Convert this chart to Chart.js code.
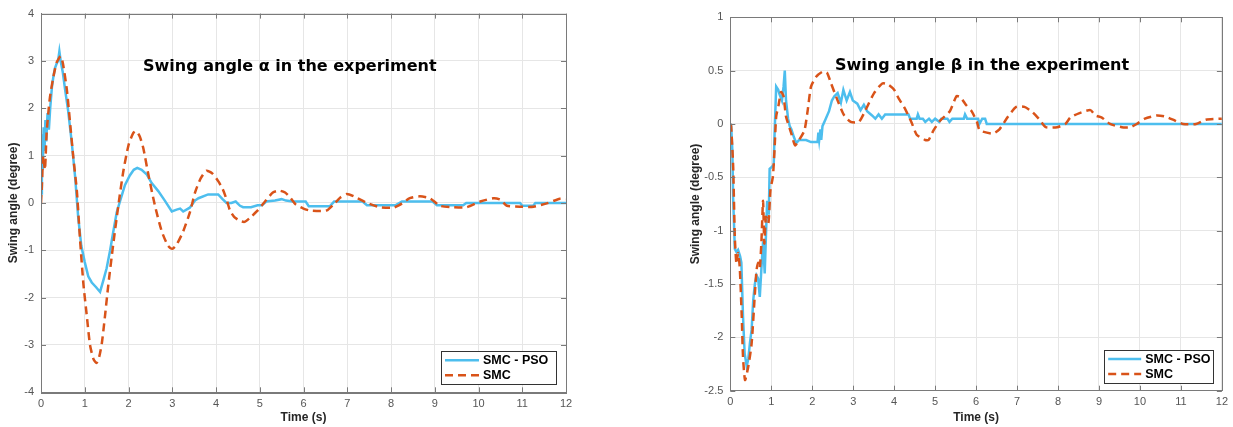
<!DOCTYPE html>
<html>
<head>
<meta charset="utf-8">
<script src="https://cdn.jsdelivr.net/npm/chart.js"></script>
<style>
  body { margin: 0; background: #fff; width: 1233px; height: 427px; overflow: hidden; position: relative; }
  .box { position: absolute; top: 0; height: 427px; }
  #alphaBox { left: 0; width: 600px; }
  #betaBox { left: 682px; width: 551px; }
</style>
</head>
<body>
<div class="box" id="alphaBox"><canvas id="alphaChart"></canvas></div>
<div class="box" id="betaBox"><canvas id="betaChart"></canvas></div>
<script>
// series names
const seriesNames = ['SMC - PSO', 'SMC']

// swing angle alpha, SMC - PSO
const alphaPsoT = [0, 0.02, 0.04, 0.06, 0.08, 0.10, 0.12, 0.15, 0.18, 0.21, 0.25, 0.28, 0.32, 0.36, 0.39, 0.42, 0.45, 0.50, 0.55, 0.62, 0.70, 0.78, 0.85, 0.92, 1.00, 1.08, 1.16, 1.26, 1.35, 1.42, 1.50, 1.58, 1.65, 1.73, 1.81, 1.92, 2.03, 2.12, 2.20, 2.30, 2.42, 2.53, 2.68, 2.83, 2.99, 3.10, 3.18, 3.25, 3.40, 3.52, 3.60, 3.82, 4.05, 4.15, 4.24, 4.35, 4.45, 4.55, 4.62, 4.80, 4.95, 5.05, 5.15, 5.35, 5.50, 5.60, 5.75, 6.05, 6.12, 6.60, 6.70, 7.35, 7.45, 8.10, 8.25, 8.95, 9.05, 9.65, 9.72, 10.95, 11.00, 11.25, 11.30, 12.00]
const alphaPsoV = [0.20, 1.45, 0.70, 1.60, 1.10, 1.75, 1.30, 1.90, 1.55, 2.00, 2.45, 2.65, 2.85, 2.95, 3.00, 3.20, 3.00, 2.75, 2.40, 1.95, 1.30, 0.55, -0.30, -0.90, -1.25, -1.55, -1.68, -1.78, -1.88, -1.65, -1.38, -1.00, -0.62, -0.20, 0.05, 0.38, 0.58, 0.70, 0.74, 0.70, 0.60, 0.42, 0.25, 0.05, -0.18, -0.14, -0.12, -0.18, -0.10, 0.05, 0.10, 0.18, 0.18, 0.08, 0.00, 0.00, 0.03, -0.06, -0.09, -0.09, -0.05, -0.05, 0.03, 0.05, 0.08, 0.05, 0.03, 0.03, -0.07, -0.07, 0.03, 0.03, -0.05, -0.05, 0.03, 0.03, -0.05, -0.05, 0.00, 0.00, -0.06, -0.06, 0.00, 0.00]

// swing angle alpha, SMC
const alphaSmcT = [0, 0.02, 0.05, 0.09, 0.13, 0.20, 0.28, 0.36, 0.45, 0.50, 0.59, 0.67, 0.74, 0.82, 0.89, 0.97, 1.05, 1.12, 1.20, 1.27, 1.33, 1.39, 1.46, 1.54, 1.65, 1.77, 1.88, 2.00, 2.11, 2.18, 2.26, 2.34, 2.45, 2.60, 2.76, 2.90, 3.00, 3.10, 3.25, 3.41, 3.52, 3.65, 3.78, 3.92, 4.05, 4.15, 4.24, 4.32, 4.42, 4.55, 4.65, 4.77, 4.93, 5.12, 5.30, 5.45, 5.58, 5.69, 5.82, 6.00, 6.15, 6.40, 6.55, 6.68, 6.85, 6.99, 7.15, 7.43, 7.75, 8.05, 8.20, 8.43, 8.66, 8.89, 9.12, 9.43, 9.73, 10.04, 10.34, 10.50, 10.65, 10.95, 11.26, 11.56, 11.86, 12.00]
const alphaSmcV = [0.00, 0.35, 1.00, 0.70, 1.50, 2.20, 2.65, 2.97, 3.10, 2.95, 2.40, 1.64, 0.95, 0.25, -0.74, -1.72, -2.41, -3.00, -3.30, -3.38, -3.25, -2.97, -2.41, -1.72, -0.88, -0.04, 0.66, 1.22, 1.48, 1.52, 1.40, 1.15, 0.62, -0.04, -0.60, -0.90, -0.97, -0.88, -0.60, -0.18, 0.22, 0.52, 0.68, 0.62, 0.46, 0.30, 0.08, -0.16, -0.30, -0.38, -0.40, -0.32, -0.18, 0.03, 0.22, 0.26, 0.22, 0.12, -0.03, -0.12, -0.16, -0.17, -0.15, -0.04, 0.12, 0.19, 0.14, 0.01, -0.09, -0.10, -0.04, 0.10, 0.14, 0.10, -0.06, -0.09, -0.09, 0.03, 0.10, 0.07, -0.06, -0.08, -0.08, -0.01, 0.09, 0.08]

// swing angle beta, SMC - PSO
const betaPsoT = [0, 0.02, 0.05, 0.07, 0.11, 0.15, 0.19, 0.24, 0.27, 0.31, 0.35, 0.40, 0.44, 0.48, 0.52, 0.56, 0.60, 0.64, 0.68, 0.72, 0.76, 0.80, 0.84, 0.87, 0.90, 0.94, 0.96, 1.02, 1.06, 1.08, 1.12, 1.17, 1.20, 1.26, 1.30, 1.33, 1.36, 1.41, 1.45, 1.49, 1.55, 1.61, 1.68, 1.73, 1.85, 1.97, 2.13, 2.15, 2.17, 2.20, 2.22, 2.25, 2.32, 2.41, 2.48, 2.54, 2.62, 2.70, 2.76, 2.84, 2.92, 2.99, 3.10, 3.18, 3.26, 3.34, 3.46, 3.54, 3.62, 3.70, 3.78, 3.95, 4.35, 4.39, 4.55, 4.58, 4.62, 4.70, 4.76, 4.85, 4.92, 5.00, 5.10, 5.15, 5.30, 5.35, 5.42, 5.70, 5.73, 5.78, 6.05, 6.08, 6.15, 6.22, 6.26, 12.00]
const betaPsoV = [0.00, -0.01, -0.25, -0.70, -1.17, -1.20, -1.18, -1.24, -1.30, -1.80, -2.15, -2.27, -2.20, -2.05, -1.93, -1.65, -1.50, -1.42, -1.45, -1.62, -1.35, -1.10, -1.40, -1.05, -0.72, -0.85, -0.42, -0.40, -0.38, -0.10, 0.35, 0.32, 0.28, 0.22, 0.35, 0.50, 0.22, 0.05, -0.02, -0.05, -0.12, -0.18, -0.15, -0.15, -0.15, -0.17, -0.17, -0.08, -0.15, -0.05, -0.15, -0.02, 0.04, 0.12, 0.22, 0.26, 0.29, 0.20, 0.32, 0.22, 0.30, 0.22, 0.19, 0.13, 0.18, 0.12, 0.08, 0.05, 0.09, 0.05, 0.09, 0.09, 0.09, 0.05, 0.05, 0.09, 0.05, 0.05, 0.02, 0.05, 0.02, 0.05, 0.02, 0.05, 0.05, 0.02, 0.05, 0.05, 0.09, 0.05, 0.05, 0.00, 0.05, 0.05, 0.00, 0.00]

// swing angle beta, SMC
const betaSmcT = [0, 0.02, 0.07, 0.11, 0.15, 0.19, 0.23, 0.28, 0.31, 0.36, 0.44, 0.52, 0.60, 0.64, 0.68, 0.72, 0.76, 0.80, 0.83, 0.87, 0.93, 0.98, 1.04, 1.08, 1.12, 1.18, 1.24, 1.30, 1.36, 1.49, 1.58, 1.68, 1.81, 1.89, 1.97, 2.09, 2.25, 2.36, 2.46, 2.62, 2.78, 2.94, 3.14, 3.30, 3.51, 3.71, 3.85, 4.00, 4.11, 4.27, 4.43, 4.55, 4.76, 4.84, 4.96, 5.12, 5.36, 5.52, 5.62, 5.75, 5.89, 6.02, 6.09, 6.41, 6.57, 6.78, 6.98, 7.18, 7.38, 7.55, 7.70, 7.98, 8.18, 8.30, 8.51, 8.79, 8.91, 9.07, 9.27, 9.56, 9.76, 9.92, 10.12, 10.41, 10.61, 10.81, 11.05, 11.37, 11.61, 12.00]
const betaSmcV = [0.00, -0.02, -0.40, -1.06, -1.31, -1.21, -1.34, -1.81, -2.18, -2.40, -2.27, -2.06, -1.59, -1.37, -1.30, -1.35, -1.10, -0.72, -1.12, -0.87, -0.93, -0.62, -0.49, -0.24, 0.07, 0.18, 0.30, 0.26, 0.07, -0.09, -0.20, -0.15, -0.06, 0.13, 0.35, 0.44, 0.49, 0.48, 0.38, 0.22, 0.08, 0.02, 0.02, 0.13, 0.29, 0.38, 0.37, 0.32, 0.24, 0.14, 0.01, -0.10, -0.15, -0.15, -0.06, 0.03, 0.12, 0.26, 0.25, 0.18, 0.12, 0.02, -0.06, -0.09, -0.05, 0.07, 0.16, 0.16, 0.11, 0.04, -0.03, -0.03, 0.00, 0.06, 0.10, 0.13, 0.08, 0.06, 0.00, -0.03, -0.03, 0.00, 0.05, 0.08, 0.07, 0.04, 0.00, 0.00, 0.04, 0.05]

const timeTicks = { min: 0, max: 12, step: 1 }
const alphaTicks = { min: -4, max: 4, step: 1 }
const betaTicks = { min: -2.5, max: 1, step: 0.5 }

const psoColor = '#4DBEEE'
const smcColor = '#D95319'
const axisColor = '#7a7a7a'


function toPoints(ts, vs) {
    return ts.map((t, i) => ({ x: t, y: vs[i] }))
}

// matlab style tick text: 1, 0.5, -2 (no trailing zeros)
function tickText(value) {
    return String(Number(value.toFixed(2)))
}


// MATLAB style box with inward ticks on all four sides
const boxPlugin = {
    id: 'matlabBox',
    afterDatasetsDraw(chart, args, opts) {
        const { ctx, chartArea: a, scales } = chart
        ctx.save()
        ctx.strokeStyle = axisColor
        ctx.lineWidth = 1
        ctx.beginPath()
        scales.x.ticks.forEach(t => {
            const px = Math.round(scales.x.getPixelForValue(t.value)) + 0.5
            ctx.moveTo(px, a.bottom); ctx.lineTo(px, a.bottom - 5)
            ctx.moveTo(px, a.top); ctx.lineTo(px, a.top + 5)
        })
        scales.y.ticks.forEach(t => {
            const py = Math.round(scales.y.getPixelForValue(t.value)) + 0.5
            ctx.moveTo(a.left, py); ctx.lineTo(a.left + 5, py)
            ctx.moveTo(a.right, py); ctx.lineTo(a.right - 5, py)
        })
        ctx.stroke()
        ctx.strokeRect(Math.round(a.left) + 0.5, Math.round(a.top) + 0.5, Math.round(a.width), Math.round(a.height))
        ctx.restore()
    }
}

// title text drawn inside the axes
const innerTitle = {
    id: 'innerTitle',
    afterDraw(chart, args, opts) {
        const ctx = chart.ctx
        ctx.save()
        ctx.font = 'bold 16px "DejaVu Sans"'
        ctx.fillStyle = '#000'
        ctx.textBaseline = 'alphabetic'
        ctx.fillText(opts.text, opts.x, opts.y)
        ctx.restore()
    }
}

// legend box in the lower right corner of the axes
const boxLegend = {
    id: 'boxLegend',
    afterDraw(chart, args, opts) {
        const { ctx, chartArea: a } = chart
        const x0 = a.right - opts.right - opts.width
        const y0 = a.bottom - opts.bottom - opts.height
        ctx.save()
        ctx.fillStyle = '#fff'
        ctx.fillRect(x0, y0, opts.width, opts.height)
        ctx.strokeStyle = '#333'
        ctx.lineWidth = 1
        ctx.strokeRect(Math.round(x0) + 0.5, Math.round(y0) + 0.5, Math.round(opts.width), Math.round(opts.height))
        ctx.font = 'bold 12.5px "Liberation Sans"'
        ctx.textBaseline = 'middle'
        chart.data.datasets.forEach((ds, i) => {
            const cy = y0 + 9 + i * 15
            ctx.strokeStyle = ds.borderColor
            ctx.lineWidth = 2.5
            ctx.setLineDash(ds.borderDash || [])
            ctx.beginPath()
            ctx.moveTo(x0 + 4, cy)
            ctx.lineTo(x0 + 4 + opts.sample, cy)
            ctx.stroke()
            ctx.setLineDash([])
            ctx.fillStyle = '#000'
            ctx.fillText(ds.label, x0 + 8 + opts.sample, cy + 0.5)
        })
        ctx.restore()
    }
}


function makeChart(id, psoT, psoV, smcT, smcV, yTicks, layout, title, legend) {
    return new Chart(
        document.getElementById(id),
        {
            type: 'line',
            data: {
                datasets: [
                    {
                        label: seriesNames[0],
                        data: toPoints(psoT, psoV),
                        borderColor: psoColor,
                        borderWidth: 2.5,
                        pointRadius: 0,
                        tension: 0,
                        order: 1
                    },
                    {
                        label: seriesNames[1],
                        data: toPoints(smcT, smcV),
                        borderColor: smcColor,
                        borderWidth: 2.5,
                        borderDash: [8, 5],
                        pointRadius: 0,
                        tension: 0.2,
                        order: 0
                    }
                ]
            },
            options: {
                responsive: true,
                maintainAspectRatio: false,
                animation: false,
                layout: { padding: { top: layout.top, right: layout.right, left: 0, bottom: 0 } },
                scales: {
                    x: {
                        type: 'linear',
                        min: timeTicks.min,
                        max: timeTicks.max,
                        afterFit: scale => { scale.height = layout.xHeight },
                        ticks: {
                            stepSize: timeTicks.step,
                            padding: 5,
                            maxRotation: 0,
                            color: '#555',
                            font: { family: 'Liberation Sans', size: 11 },
                            callback: tickText
                        },
                        grid: { color: '#e6e6e6', drawTicks: false },
                        border: { color: axisColor },
                        title: {
                            display: true,
                            text: 'Time (s)',
                            color: '#262626',
                            padding: { top: 0, bottom: 2 },
                            font: { family: 'Liberation Sans', size: 12, weight: 'bold' }
                        }
                    },
                    y: {
                        min: yTicks.min,
                        max: yTicks.max,
                        afterFit: scale => { scale.width = layout.yWidth },
                        ticks: {
                            stepSize: yTicks.step,
                            padding: 7,
                            color: '#555',
                            font: { family: 'Liberation Sans', size: 11 },
                            callback: tickText
                        },
                        grid: { color: '#e6e6e6', drawTicks: false },
                        border: { color: axisColor },
                        title: {
                            display: true,
                            text: 'Swing angle (degree)',
                            color: '#262626',
                            padding: { top: 6, bottom: 0 },
                            font: { family: 'Liberation Sans', size: 12, weight: 'bold' }
                        }
                    }
                },
                plugins: {
                    legend: { display: false },
                    tooltip: { enabled: false },
                    innerTitle: title,
                    boxLegend: legend
                }
            },
            plugins: [boxPlugin, innerTitle, boxLegend]
        }
    )
}


var alphaChart = makeChart('alphaChart', alphaPsoT, alphaPsoV, alphaSmcT, alphaSmcV, alphaTicks,
    { top: 10.7, right: 34, yWidth: 41, xHeight: 34.7 },
    { text: 'Swing angle α in the experiment', x: 143, y: 71 },
    { right: 10, bottom: 8, width: 115, height: 33, sample: 34 })

var betaChart = makeChart('betaChart', betaPsoT, betaPsoV, betaSmcT, betaSmcV, betaTicks,
    { top: 17.3, right: 7.3, yWidth: 48.3, xHeight: 36.3 },
    { text: 'Swing angle β in the experiment', x: 153, y: 70 },
    { right: 8.7, bottom: 7.7, width: 109, height: 33, sample: 33 })
</script>
</body>
</html>
